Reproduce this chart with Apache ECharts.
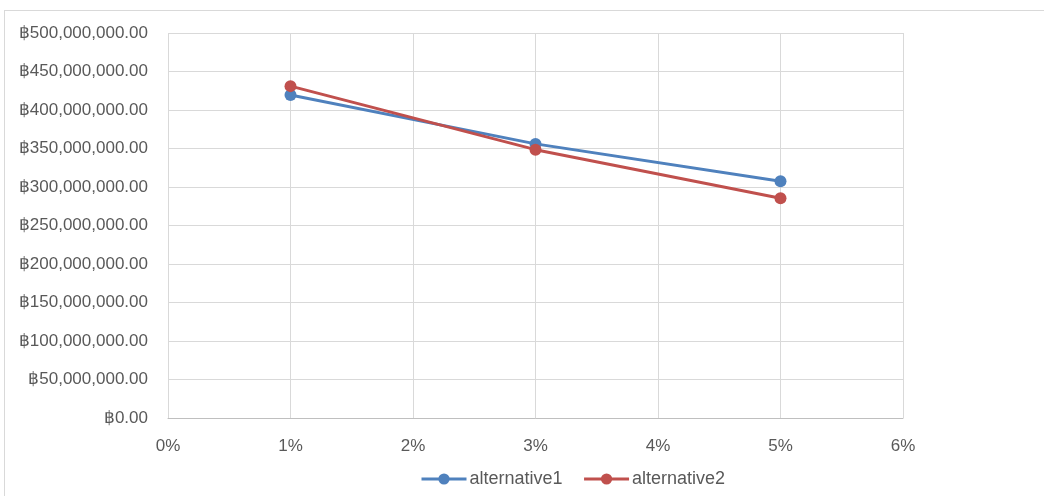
<!DOCTYPE html>
<html>
<head>
<meta charset="utf-8">
<script src="https://cdn.jsdelivr.net/npm/echarts@6/dist/echarts.min.js"></script>
<style>
  html, body { margin: 0; padding: 0; background: #fff; overflow: hidden; }
  #frame { position: absolute; left: 4px; top: 10px; width: 1100px; height: 520px; border: 1px solid #d9d9d9; box-sizing: border-box; }
  #chart { position: absolute; left: 0; top: 0; width: 1044px; height: 496px; }
</style>
</head>
<body>
<div id="frame"></div>
<div id="chart"></div>
<script>
// Interest rates (x) and present values in baht for each alternative
const rates = [0.01, 0.03, 0.05];
const alternative1 = [419500000, 356000000, 307500000];
const alternative2 = [431000000, 348500000, 285500000];
const seriesNames = ['alternative1', 'alternative2'];

const FONT = 'Liberation Sans, Arial, sans-serif';
const fmtBaht = v => '\u0E3F' + v.toLocaleString('en-US', { minimumFractionDigits: 2, maximumFractionDigits: 2 });
const pair = vals => rates.map((r, i) => [r, vals[i]]);

const chart = echarts.init(document.getElementById('chart'), null, { renderer: 'canvas' });
chart.setOption({
  animation: false,
  backgroundColor: 'transparent',
  grid: { left: 168, right: 141, top: 33, bottom: 78, containLabel: false },
  legend: {
    top: 465,
    left: 415,
    itemWidth: 45,
    itemHeight: 14,
    itemGap: 20,
    lineStyle: { width: 3 },
    textStyle: { color: '#595959', fontSize: 18, fontFamily: FONT, padding: [0, 0, 0, -2] },
    data: seriesNames
  },
  xAxis: {
    type: 'value',
    min: 0,
    max: 0.06,
    interval: 0.01,
    axisLine: { show: true, lineStyle: { color: '#bfbfbf', width: 1 } },
    axisTick: { show: false },
    splitLine: { show: true, lineStyle: { color: '#d9d9d9', width: 1 } },
    axisLabel: {
      color: '#595959', fontSize: 17, margin: 20,
      fontFamily: FONT,
      formatter: v => Math.round(v * 100) + '%'
    }
  },
  yAxis: {
    type: 'value',
    min: 0,
    max: 500000000,
    interval: 50000000,
    axisLine: { show: false },
    axisTick: { show: false },
    splitLine: { show: true, lineStyle: { color: '#d9d9d9', width: 1 } },
    axisLabel: {
      color: '#595959', fontSize: 17, margin: 20,
      fontFamily: FONT,
      formatter: fmtBaht
    }
  },
  series: [
    {
      name: seriesNames[0], type: 'line', data: pair(alternative1),
      color: '#4f81bd', symbol: 'circle', symbolSize: 12,
      lineStyle: { width: 3, color: '#4f81bd' },
      itemStyle: { color: '#4f81bd' }
    },
    {
      name: seriesNames[1], type: 'line', data: pair(alternative2),
      color: '#c0504d', symbol: 'circle', symbolSize: 12,
      lineStyle: { width: 3, color: '#c0504d' },
      itemStyle: { color: '#c0504d' }
    }
  ]
});
</script>
</body>
</html>
